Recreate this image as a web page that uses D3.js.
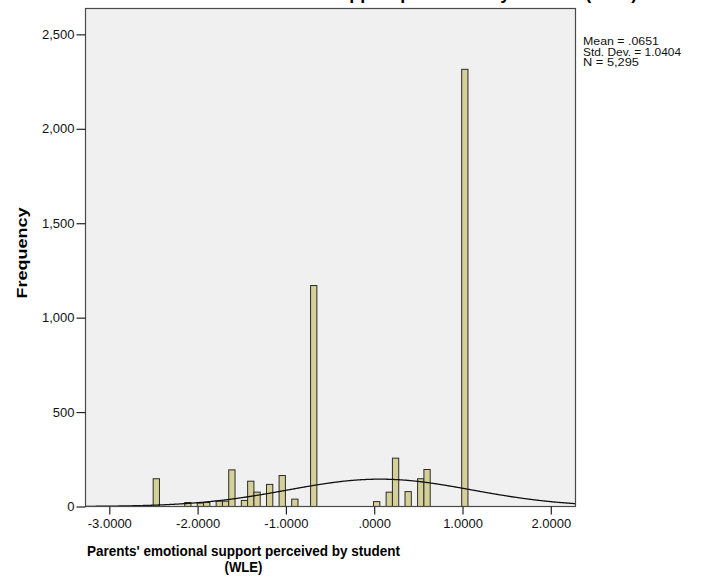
<!DOCTYPE html>
<html>
<head>
<meta charset="utf-8">
<script src="https://cdn.jsdelivr.net/npm/d3@7/dist/d3.min.js"></script>
<style>
  html, body { margin: 0; padding: 0; background: #ffffff; }
  svg { display: block; font-family: Arial, "Liberation Sans", sans-serif; }
</style>
</head>
<body>
<svg id="chart" width="710" height="585"></svg>
<script>
// Histogram bins (lower edge of each non-empty bin, in WLE units) and counts
const binWidth = 0.0713;
const binLower = [-2.503, -2.1465, -2.0039, -1.9326, -1.790, -1.7187, -1.6474,
  -1.5048, -1.4335, -1.3622, -1.2196, -1.077, -0.9344, -0.7205,
  -0.0075, 0.1351, 0.2064, 0.349, 0.4916, 0.5629, 0.9907];
const counts = [147, 21, 18, 21, 28, 28, 194, 32, 134, 76, 117, 164, 39, 1170,
  26, 76, 256, 79, 147, 196, 2315];

// Summary statistics shown beside the plot
const statMean = 0.0651;
const statSD = 1.0404;
const statN = 5295;
const statLabels = ["Mean = .0651", "Std. Dev. = 1.0404", "N = 5,295"];

// Axis ticks
const xTicks = [-3, -2, -1, 0, 1, 2];
const xTickLabels = ["-3.0000", "-2.0000", "-1.0000", ".0000", "1.0000", "2.0000"];
const yTicks = [0, 500, 1000, 1500, 2000, 2500];

const titleText = "Parents' emotional support perceived by student (WLE)";
const xTitle = ["Parents' emotional support perceived by student", "(WLE)"];
const yTitle = "Frequency";

const svg = d3.select("#chart");
const plot = { left: 85.5, right: 575.5, top: 8.5, bottom: 506.5 };

const x = d3.scaleLinear().domain([-3.2695, 2.2797]).range([plot.left, plot.right]);
const y = d3.scaleLinear().domain([0, 2637]).range([plot.bottom, plot.top]);

// chart title sits above the top edge of the page
svg.append("text")
  .attr("x", 163).attr("y", -1)
  .attr("font-size", 18).attr("font-weight", "bold")
  .attr("fill", "#000")
  .text(titleText);

// plot background
svg.append("rect")
  .attr("x", plot.left).attr("y", plot.top)
  .attr("width", plot.right - plot.left).attr("height", plot.bottom - plot.top)
  .attr("fill", "#f0f0f0");

svg.append("defs").append("clipPath").attr("id", "plotclip")
  .append("rect")
  .attr("x", plot.left).attr("y", plot.top)
  .attr("width", plot.right - plot.left).attr("height", plot.bottom - plot.top);

// bars
svg.append("g").selectAll("rect")
  .data(binLower.map((lo, i) => ({ lo, n: counts[i] })))
  .join("rect")
  .attr("x", d => x(d.lo))
  .attr("y", d => y(d.n))
  .attr("width", d => x(d.lo + binWidth) - x(d.lo))
  .attr("height", d => y(0) - y(d.n))
  .attr("fill", "#d5cf98")
  .attr("stroke", "#2b2b2b")
  .attr("stroke-width", 1);

// fitted normal curve
const scaleN = statN * binWidth / (statSD * Math.sqrt(2 * Math.PI));
const curveX = d3.range(0, 301).map(i => x.domain()[0] + i * (x.domain()[1] - x.domain()[0]) / 300);
svg.append("path")
  .attr("clip-path", "url(#plotclip)")
  .datum(curveX)
  .attr("fill", "none")
  .attr("stroke", "#111")
  .attr("stroke-width", 1.3)
  .attr("d", d3.line()
    .x(v => x(v))
    .y(v => y(scaleN * Math.exp(-0.5 * Math.pow((v - statMean) / statSD, 2))))
    .curve(d3.curveBasis));

// plot frame
svg.append("rect")
  .attr("x", plot.left).attr("y", plot.top)
  .attr("width", plot.right - plot.left).attr("height", plot.bottom - plot.top)
  .attr("fill", "none")
  .attr("stroke", "#4a4a4a")
  .attr("stroke-width", 1.2);

// x axis
const xAxis = svg.append("g")
  .attr("transform", `translate(0,${plot.bottom})`)
  .call(d3.axisBottom(x).tickValues(xTicks)
    .tickFormat((d, i) => xTickLabels[i]).tickSize(8).tickPadding(4));
xAxis.select(".domain").remove();
xAxis.selectAll("line").attr("stroke", "#222").attr("stroke-width", 1.2);
xAxis.selectAll("text").attr("font-size", 13).attr("fill", "#111")
  .attr("font-family", "Arial, 'Liberation Sans', sans-serif");

// y axis
const yAxis = svg.append("g")
  .attr("transform", `translate(${plot.left},0)`)
  .call(d3.axisLeft(y).tickValues(yTicks).tickFormat(d3.format(",")).tickSize(9).tickPadding(2));
yAxis.select(".domain").remove();
yAxis.selectAll("line").attr("stroke", "#222").attr("stroke-width", 1.2);
yAxis.selectAll("text").attr("font-size", 13).attr("fill", "#111")
  .attr("font-family", "Arial, 'Liberation Sans', sans-serif");

// axis titles
svg.append("g").selectAll("text")
  .data(xTitle)
  .join("text")
  .attr("x", (plot.left + plot.right) / 2 - 87)
  .attr("y", (d, i) => 556 + i * 16)
  .attr("text-anchor", "middle")
  .attr("font-size", 15).attr("font-weight", "bold")
  .attr("fill", "#000")
  .attr("textLength", (d, i) => i === 0 ? 313 : 38)
  .attr("lengthAdjust", "spacingAndGlyphs")
  .text(d => d);

svg.append("text")
  .attr("transform", `translate(27,253) rotate(-90) scale(1,0.82)`)
  .attr("text-anchor", "middle")
  .attr("font-size", 18).attr("font-weight", "bold")
  .attr("fill", "#000")
  .text(yTitle);

// statistics box text
svg.append("g").selectAll("text")
  .data(statLabels)
  .join("text")
  .attr("x", 583)
  .attr("y", (d, i) => 45 + i * 10.5)
  .attr("font-size", 11)
  .attr("fill", "#111")
  .attr("textLength", (d, i) => [76, 98, 56][i])
  .attr("lengthAdjust", "spacingAndGlyphs")
  .text(d => d);
</script>
</body>
</html>
